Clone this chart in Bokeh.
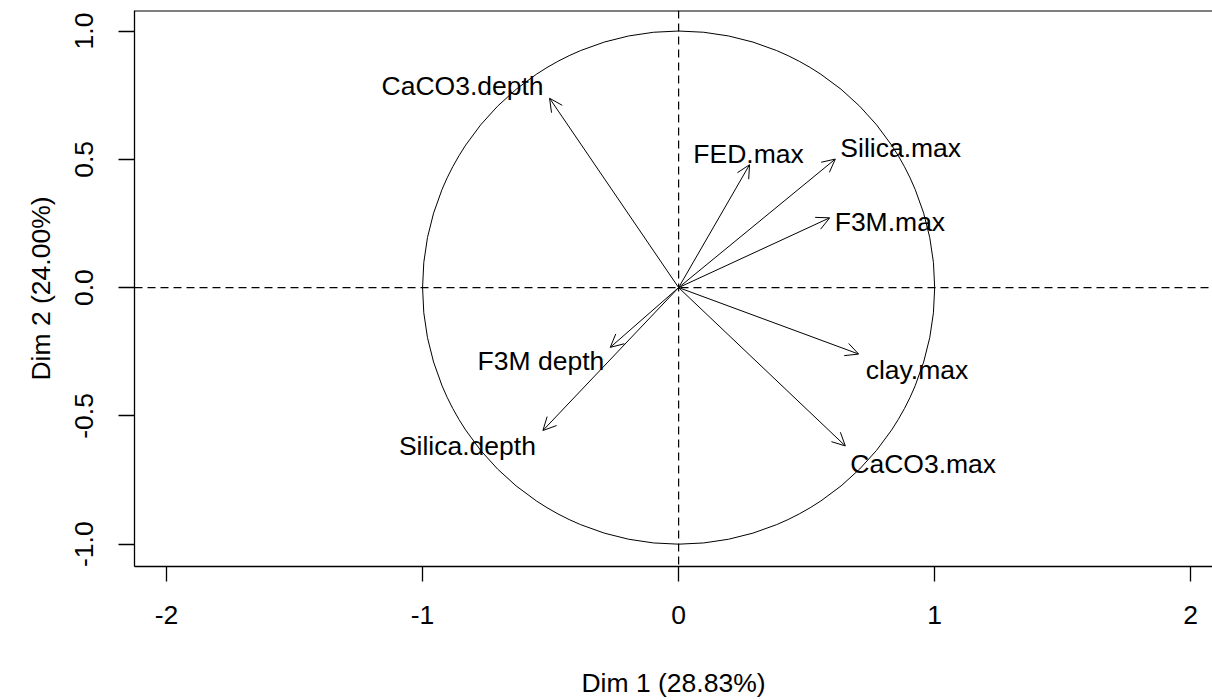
from bokeh.plotting import figure
from bokeh.models import (ColumnDataSource, Range1d, FixedTicker, Arrow, OpenHead, Span)
from bokeh.core.properties import value
from bokeh.embed import file_html
from bokeh.resources import INLINE

# ---- data ----
var_names = ["CaCO3.depth", "FED.max", "Silica.max", "F3M.max",
             "clay.max", "CaCO3.max", "Silica.depth", "F3M depth"]
dim1 = [-0.504, 0.277, 0.612, 0.590, 0.703, 0.651, -0.530, -0.267]
dim2 = [0.738, 0.479, 0.501, 0.272, -0.259, -0.617, -0.557, -0.233]

x_ticks = [-2, -1, 0, 1, 2]
x_tick_labels = ["-2", "-1", "0", "1", "2"]
y_ticks = [-1.0, -0.5, 0.0, 0.5, 1.0]
y_tick_labels = ["-1.0", "-0.5", "0.0", "0.5", "1.0"]

x_title = "Dim 1 (28.83%)"
y_title = "Dim 2 (24.00%)"

# ---- label placement (screen px) ----
label_style = {
    "CaCO3.depth":  ("right", -6, -12),
    "FED.max":      ("center", -1, -11),
    "Silica.max":   ("left", 5, -11),
    "F3M.max":      ("left", 5, 4),
    "clay.max":     ("left", 7, 16),
    "CaCO3.max":    ("left", 5, 18),
    "Silica.depth": ("right", -7, 15),
    "F3M depth":    ("right", -6, 14),
}

FONT = "Liberation Sans"
FS = "26.5px"

p = figure(width=1212, height=700, output_backend="svg", toolbar_location=None,
           x_range=Range1d(-2.125, 2.085), y_range=Range1d(-1.087, 1.080),
           min_border_left=134, min_border_right=0, min_border_top=10,
           min_border_bottom=132)
p.outline_line_color = None
p.grid.visible = False
p.background_fill_color = "white"
p.border_fill_color = "white"

# axes
for ax in (p.xaxis[0], p.yaxis[0]):
    ax.axis_line_color = "black"
    ax.axis_line_width = 1.3
    ax.major_tick_line_color = "black"
    ax.major_tick_line_width = 1.3
    ax.minor_tick_line_color = None
    ax.major_tick_in = 0
    ax.major_label_text_font = FONT
    ax.major_label_text_font_size = FS
    ax.major_label_text_color = "black"
    ax.axis_label_text_font = FONT
    ax.axis_label_text_font_size = FS
    ax.axis_label_text_font_style = "normal"
    ax.axis_label_text_color = "black"

p.xaxis[0].ticker = FixedTicker(ticks=x_ticks)
p.xaxis[0].major_label_overrides = dict(zip(x_ticks, x_tick_labels))
p.xaxis[0].major_tick_out = 15
p.xaxis[0].major_label_standoff = 24
p.xaxis[0].axis_label = x_title
p.xaxis[0].axis_label_standoff = 41

p.yaxis[0].ticker = FixedTicker(ticks=y_ticks)
p.yaxis[0].major_label_overrides = dict(zip(y_ticks, y_tick_labels))
p.yaxis[0].major_tick_out = 16
p.yaxis[0].major_label_orientation = "vertical"
p.yaxis[0].major_label_standoff = 25
p.yaxis[0].axis_label = y_title
p.yaxis[0].axis_label_standoff = 17

# top border
p.add_layout(Span(location=p.y_range.end, dimension="width",
                  line_color="black", line_width=2))

# dashed axes through origin
p.add_layout(Span(location=0, dimension="width", line_color="black",
                  line_dash="8 5", line_width=1.2))
p.add_layout(Span(location=0, dimension="height", line_color="black",
                  line_dash="8 5", line_width=1.2))

# unit circle
p.ellipse(x=0, y=0, width=2, height=2, fill_color=None,
          line_color="black", line_width=1)

src = ColumnDataSource(dict(
    name=var_names, x=dim1, y=dim2,
    align=[label_style[n][0] for n in var_names],
    xo=[label_style[n][1] for n in var_names],
    yo=[label_style[n][2] for n in var_names],
))

p.add_layout(Arrow(end=OpenHead(size=13, line_width=1, line_color="black"),
                   x_start=0, y_start=0, x_end="x", y_end="y",
                   line_color="black", line_width=1, source=src))

p.text(x="x", y="y", text="name", source=src, text_align="align",
       text_baseline="alphabetic", x_offset="xo", y_offset="yo",
       text_font=value(FONT), text_font_size=FS, text_color="black")

open("out.html", "w").write(file_html(p, INLINE))
